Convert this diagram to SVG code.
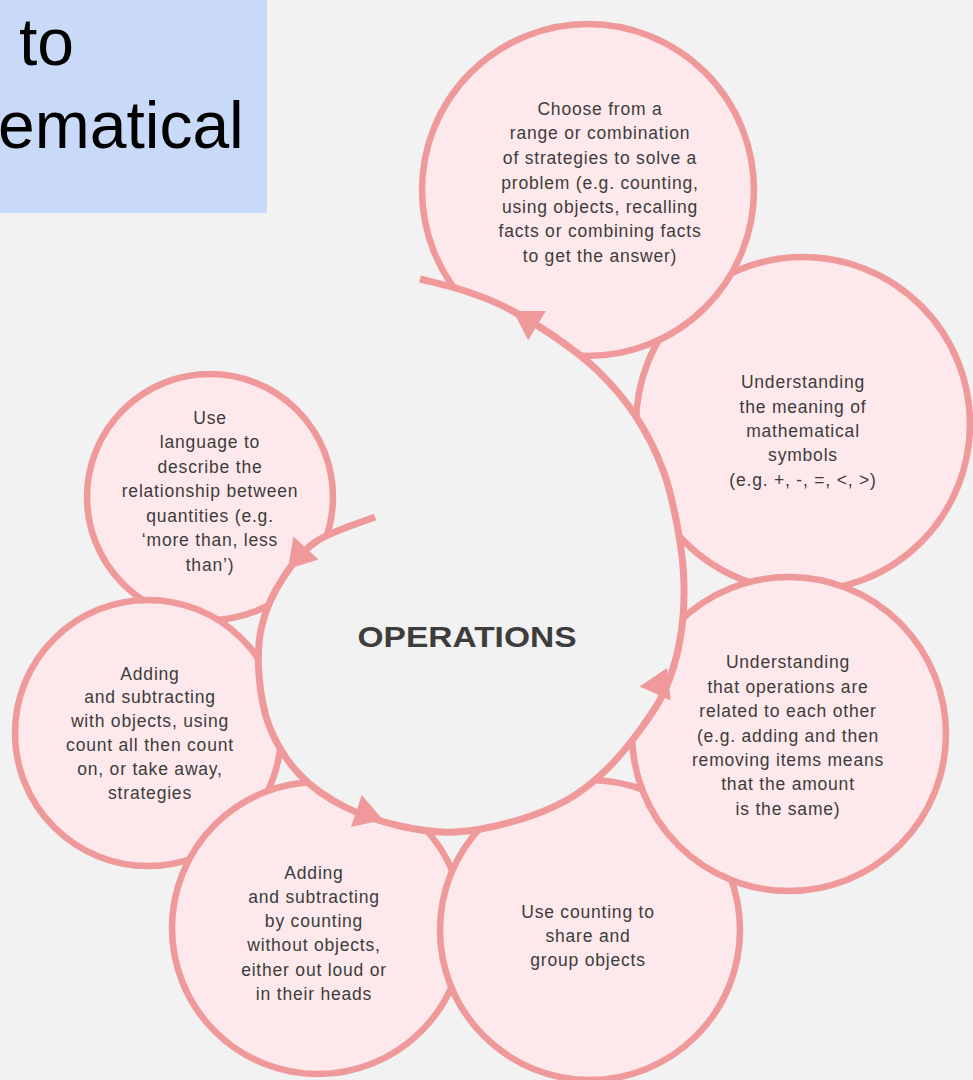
<svg xmlns="http://www.w3.org/2000/svg" width="973" height="1080" viewBox="0 0 973 1080">
  <style>
    .bubble { fill: #fde8eb; stroke: #ef999b; stroke-width: 6.5; }
    .label { font-family: "Liberation Sans", Arial, sans-serif; font-size: 17.5px; letter-spacing: 0.8px; fill: #3c3c3c; text-anchor: middle; }
    .ring { fill: none; stroke: #ef999b; stroke-width: 7; stroke-linecap: butt; stroke-linejoin: round; }
    .head { fill: #ef999b; }
    .title { font-family: "Liberation Sans", Arial, sans-serif; font-size: 66px; fill: #000000; }
  </style>

  <!-- page background -->
  <rect x="0" y="0" width="973" height="1080" fill="#f2f2f2"/>

  <!-- heading panel, cropped at the left edge -->
  <g id="heading">
    <rect x="0" y="0" width="267" height="213" fill="#c9daf8"/>
    <text class="title" x="19" y="65">to</text>
    <text class="title" x="-2" y="148">ematical</text>
  </g>

  <!-- outer bubbles; later ones sit on top of earlier ones -->
  <g id="node-language">
    <circle class="bubble" cx="210" cy="497" r="123"/>
  </g>
  <g id="node-objects">
    <circle class="bubble" cx="148" cy="733" r="133"/>
  </g>
  <g id="node-counting">
    <circle class="bubble" cx="318" cy="928" r="146"/>
  </g>
  <g id="node-symbols">
    <circle class="bubble" cx="803" cy="424" r="167"/>
  </g>
  <g id="node-strategies">
    <circle class="bubble" cx="588" cy="190" r="166"/>
  </g>
  <g id="node-share">
    <circle class="bubble" cx="590" cy="930" r="150"/>
  </g>
  <g id="node-related">
    <circle class="bubble" cx="789" cy="734" r="157"/>
  </g>

  <!-- spiral cycle in the middle -->
  <g id="connectors">
    <path id="hub-fill" fill="#f2f2f2" stroke="none" d="M375,517 C365.3,521 332.3,530.8 317,541 C301.7,551.2 292.2,564 283,578 C273.8,592 266,608.8 262,625 C258,641.2 257.7,657.8 259,675 C260.3,692.2 263.2,711.3 270,728 C276.8,744.7 287.5,761.8 300,775 C312.5,788.2 328.3,798.5 345,807 C361.7,815.5 381.7,821.8 400,826 C418.3,830.2 435.8,832.8 455,832 C474.2,831.2 496.3,826.3 515,821 C533.7,815.7 551.8,808.5 567,800 C582.2,791.5 593.8,781.7 606,770 C618.2,758.3 630.2,743.3 640,730 C649.8,716.7 658.3,705 665,690 C671.7,675 676.8,657.5 680,640 C683.2,622.5 684.3,603.3 684,585 C683.7,566.7 681.5,549.2 678,530 C674.5,510.8 670.2,489.2 663,470 C655.8,450.8 645.8,431.5 635,415 C624.2,398.5 611.3,384 598,371 C584.7,358 570.5,347.7 555,337 C539.5,326.3 520,314.7 505,307 C490,299.3 479.2,295.7 465,291 C450.8,286.3 427.5,281 420,279 Z"/>
    <path class="ring" d="M375,517 C365.3,521 332.3,530.8 317,541 C301.7,551.2 292.2,564 283,578 C273.8,592 266,608.8 262,625 C258,641.2 257.7,657.8 259,675 C260.3,692.2 263.2,711.3 270,728 C276.8,744.7 287.5,761.8 300,775 C312.5,788.2 328.3,798.5 345,807 C361.7,815.5 381.7,821.8 400,826 C418.3,830.2 435.8,832.8 455,832 C474.2,831.2 496.3,826.3 515,821 C533.7,815.7 551.8,808.5 567,800 C582.2,791.5 593.8,781.7 606,770 C618.2,758.3 630.2,743.3 640,730 C649.8,716.7 658.3,705 665,690 C671.7,675 676.8,657.5 680,640 C683.2,622.5 684.3,603.3 684,585 C683.7,566.7 681.5,549.2 678,530 C674.5,510.8 670.2,489.2 663,470 C655.8,450.8 645.8,431.5 635,415 C624.2,398.5 611.3,384 598,371 C584.7,358 570.5,347.7 555,337 C539.5,326.3 520,314.7 505,307 C490,299.3 479.2,295.7 465,291 C450.8,286.3 427.5,281 420,279"/>
    <!-- arrowheads along the cycle -->
    <polygon class="head" points="288,569 318.6,559.6 293.4,536.4"/>
    <polygon class="head" points="383,820 351,827 361.8,795"/>
    <polygon class="head" points="667,668 670.7,700.6 639.7,686.4"/>
    <polygon class="head" points="513,311 545.8,311 528.2,340.2"/>
  </g>

  <!-- hub label -->
  <g id="node-operations">
    <text x="467" y="647" font-family="Liberation Sans, Arial, sans-serif" font-size="30" font-weight="bold" fill="#3d3d3d" text-anchor="middle" textLength="219" lengthAdjust="spacingAndGlyphs">OPERATIONS</text>
  </g>

  <!-- bubble captions -->
  <g id="text-strategies" class="label">
    <text x="600" y="115">Choose from a</text>
    <text x="600" y="139">range or combination</text>
    <text x="600" y="164">of strategies to solve a</text>
    <text x="600" y="189">problem (e.g. counting,</text>
    <text x="600" y="213">using objects, recalling</text>
    <text x="600" y="237">facts or combining facts</text>
    <text x="600" y="262">to get the answer)</text>
  </g>
  <g id="text-symbols" class="label">
    <text x="803" y="388">Understanding</text>
    <text x="803" y="413">the meaning of</text>
    <text x="803" y="437">mathematical</text>
    <text x="803" y="461">symbols</text>
    <text x="803" y="486">(e.g. +, -, =, &lt;, &gt;)</text>
  </g>
  <g id="text-related" class="label">
    <text x="788" y="668">Understanding</text>
    <text x="788" y="693">that operations are</text>
    <text x="788" y="717">related to each other</text>
    <text x="788" y="742">(e.g. adding and then</text>
    <text x="788" y="766">removing items means</text>
    <text x="788" y="790">that the amount</text>
    <text x="788" y="815">is the same)</text>
  </g>
  <g id="text-share" class="label">
    <text x="588" y="918">Use counting to</text>
    <text x="588" y="942">share and</text>
    <text x="588" y="966">group objects</text>
  </g>
  <g id="text-counting" class="label">
    <text x="314" y="879">Adding</text>
    <text x="314" y="903">and subtracting</text>
    <text x="314" y="927">by counting</text>
    <text x="314" y="951">without objects,</text>
    <text x="314" y="976">either out loud or</text>
    <text x="314" y="1000">in their heads</text>
  </g>
  <g id="text-objects" class="label">
    <text x="150" y="680">Adding</text>
    <text x="150" y="703">and subtracting</text>
    <text x="150" y="727">with objects, using</text>
    <text x="150" y="751">count all then count</text>
    <text x="150" y="775">on, or take away,</text>
    <text x="150" y="799">strategies</text>
  </g>
  <g id="text-language" class="label">
    <text x="210" y="424">Use</text>
    <text x="210" y="448">language to</text>
    <text x="210" y="473">describe the</text>
    <text x="210" y="497">relationship between</text>
    <text x="210" y="522">quantities (e.g.</text>
    <text x="210" y="546">‘more than, less</text>
    <text x="210" y="571">than’)</text>
  </g>
</svg>
